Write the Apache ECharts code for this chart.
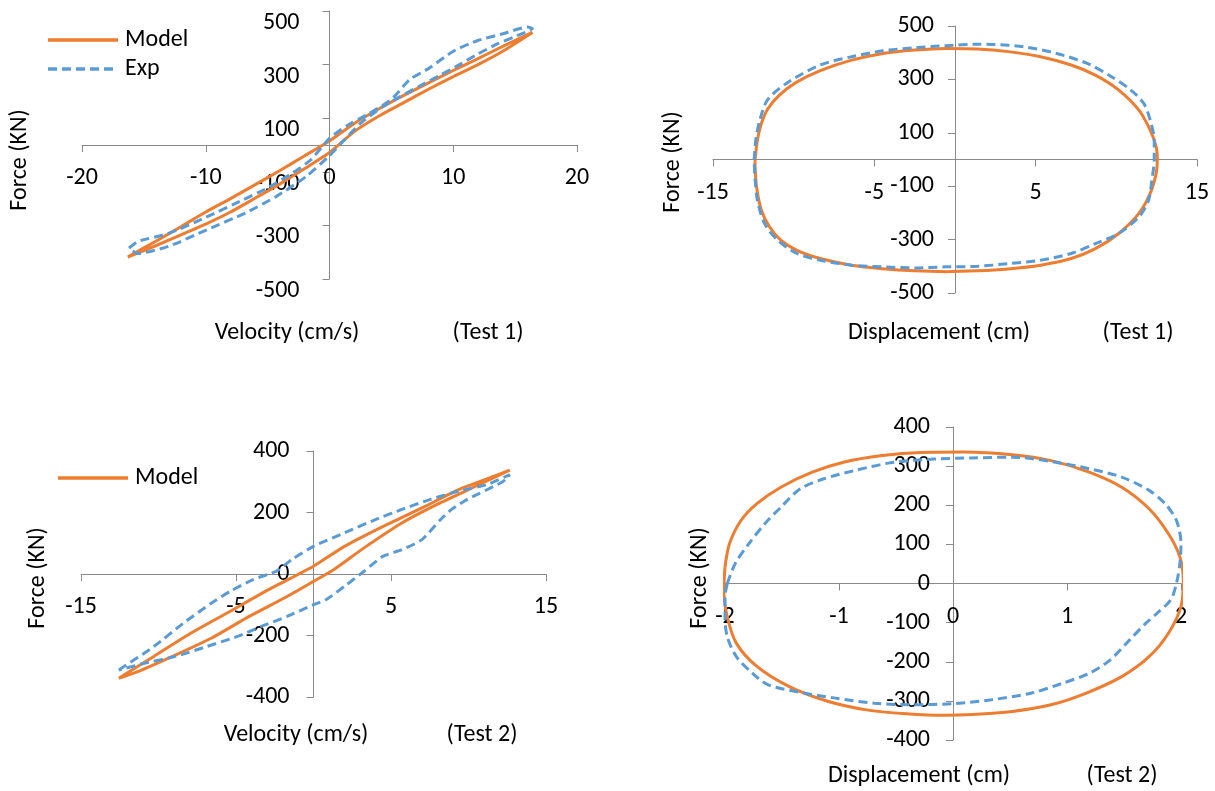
<!DOCTYPE html>
<html>
<head>
<meta charset="utf-8">
<script src="https://cdn.jsdelivr.net/npm/echarts@6/dist/echarts.min.js"></script>
<style>
html,body{margin:0;padding:0;background:#fff;}
#c{width:1215px;height:791px;}
</style>
</head>
<body>
<div id="c"></div>
<script>
// ---------- DATA ----------
// Test 1 : Force vs Velocity
const t1VelModelX = [-16.3,-14,-12,-10,-8,-6,-4,-2,0,2,4,6,8,10,12,14,16.4, 14,12,10,8,6,4,2,0,-2,-4,-6,-8,-10,-12,-14,-16.3];
const t1VelModelY = [-418,-358,-305,-250,-200,-148,-95,-40,15,80,135,185,232,278,322,368,420, 350,300,255,208,158,108,50,-28,-88,-145,-198,-250,-295,-335,-375,-418];
const t1VelExpX = [-16.2,-15.5,-13,-10,-7,-5,-3,-1.5,0,1.5,3,5,6.5,8,10,12,14,16,16.4, 15,13.6,12,10.5,9,7.4,5.5,4.3,2.5,1.2,0,-1.9,-4.3,-6.8,-9.9,-13,-15.5,-16.2];
const t1VelExpY = [-385,-360,-330,-270,-205,-160,-105,-55,25,75,112,170,245,285,350,390,415,440,435, 405,378,340,300,262,223,175,143,81,19,-40,-118,-192,-254,-316,-378,-405,-385];
// Test 1 : Force vs Displacement
const t1DispModelX = [-12.4,-12.25,-12.0,-11.6,-10.9,-9.9,-8.35,-6.4,-4.46,-2.5,-0.56,1.39,3.3,5.3,7.2,8.7,10.15,11.4,12.1,12.47,12.54, 12.47,12.1,11.4,10.15,8.7,7.2,5.3,3.3,1.4,-0.56,-2.5,-4.5,-6.4,-8.35,-9.8,-10.8,-11.5,-12.0,-12.3,-12.4];
const t1DispModelY = [-9,72,135,190,240,287,333,372,397,410,416,414,404,385,354,316,260,185,110,47,0, -52,-127,-202,-277,-334,-371,-396,-410,-417,-420,-417,-409,-396,-371,-340,-302,-252,-190,-102,-9];
const t1DispExpX = [-12.45,-12.35,-12.1,-11.6,-10.3,-8.35,-6.4,-4.46,-2.5,-0.56,1.39,2.36,4.3,6.3,8.2,9.7,10.9,11.7,12.1,12.35,12.35, 12.2,12.0,11.4,10.15,8.7,7.2,5.3,3.3,1.4,-0.56,-2.5,-4.5,-6.4,-8.35,-9.8,-11.0,-11.8,-12.25,-12.4,-12.45];
const t1DispExpY = [-2,72,147,225,291,354,385,407,419,426,432,431,422,397,360,310,260,210,147,72,0, -77,-152,-215,-277,-315,-352,-377,-390,-400,-402,-406,-402,-396,-377,-352,-302,-240,-152,-65,-2];
// Test 2 : Force vs Velocity
const t2VelModelX = [-12.56,-10.3,-7.9,-5.4,-2.9,-0.94,0,2.0,4.5,7.0,9.4,11.4,12.66, 10.7,8.2,5.7,3.26,1.3,0,-1.7,-4.15,-6.6,-9.1,-11.3,-12.56];
const t2VelModelY = [-339,-268,-192,-122,-51,0,25,90,155,215,275,313,338, 291,232,166,85,14,-24,-73,-138,-209,-268,-317,-339];
const t2VelExpX = [-12.56,-10.3,-8.4,-6.6,-5.4,-3.9,-2.4,-1.4,0,2.0,4.0,5.7,7.5,9.4,11.2,12.66, 12.2,9.9,8.9,8.2,7.0,5.7,4.5,3.26,2.0,0.8,0,-1.7,-3.4,-4.9,-6.9,-8.9,-10.9,-12.1,-12.56];
const t2VelExpY = [-312,-236,-160,-95,-57,-18,9,47,90,134,177,210,242,270,291,323, 300,242,210,177,112,79,58,9,-40,-84,-100,-138,-171,-203,-236,-268,-290,-306,-312];
// Test 2 : Force vs Displacement
const t2DispModelX = [-2.0,-1.96,-1.86,-1.72,-1.51,-1.24,-0.96,-0.62,-0.28,0.1,0.52,0.86,1.20,1.48,1.72,1.89,1.99,2.02, 2.0,1.89,1.72,1.48,1.17,0.86,0.52,0.17,-0.07,-0.41,-0.76,-1.1,-1.44,-1.72,-1.9,-1.98,-2.01,-2.0];
const t2DispModelY = [42,102,161,204,246,284,310,327,335,336,329,314,284,246,191,127,68,8, -59,-127,-187,-238,-280,-310,-327,-335,-337,-333,-323,-301,-263,-212,-153,-85,-17,42];
const t2DispExpX = [-1.98,-1.91,-1.79,-1.65,-1.51,-1.34,-1.14,-0.86,-0.52,-0.17,0.17,0.52,0.86,1.2,1.48,1.72,1.86,1.96,2.0,1.99,1.96, 1.91,1.79,1.69,1.55,1.38,1.2,0.96,0.69,0.34,0,-0.34,-0.69,-1.03,-1.31,-1.62,-1.76,-1.9,-1.98,-2.0,-2.0,-1.98];
const t2DispExpY = [0,51,102,153,195,242,267,289,310,318,321,323,312,293,272,238,204,161,102,51,0, -42,-76,-102,-144,-195,-229,-255,-280,-297,-307,-310,-306,-293,-280,-259,-229,-187,-136,-85,-34,0];

// axis ranges [min, max, interval] per panel
const xRanges = [[-20,20,10],[-15,15,10],[-15,15,10],[-2,2,1]];
const yRanges = [[-500,500,200],[-500,500,200],[-400,400,200],[-400,400,100]];
const axisTitlesX = ['Velocity (cm/s)','Displacement (cm)','Velocity (cm/s)','Displacement (cm)'];
const testLabels = ['(Test 1)','(Test 1)','(Test 2)','(Test 2)'];
const axisTitleY = 'Force (KN)';

const colModel = '#ED7D31';
const colExp = '#5B9BD5';
const FONT = 'Carlito, Calibri, Lato, sans-serif';
const FS = 24;

function pairs(xs, ys){ return xs.map((x,i)=>[x, ys[i]]); }

const grids = [
  {left:82, top:11, width:495, height:268},
  {left:713, top:26, width:484, height:267},
  {left:81, top:451, width:465, height:246},
  {left:725, top:427, width:456, height:313}
];
const yMargins = [30, 21, 24, 23];
const axisColor = '#8a8a8a';
const labelStyle = {color:'#000', fontSize:FS, fontFamily:FONT};

const xAxis = xRanges.map((r,i)=>({
  type:'value', gridIndex:i, min:r[0], max:r[1], interval:r[2],
  offset: -grids[i].height * (0 - yRanges[i][0]) / (yRanges[i][1] - yRanges[i][0]),
  axisLine:{show:true, onZero:false, lineStyle:{color:axisColor, width:1}},
  axisTick:{show:true, length:7, lineStyle:{color:axisColor}},
  splitLine:{show:false},
  axisLabel:Object.assign({margin:21, showMinLabel:true, showMaxLabel:true}, labelStyle)
}));
const yAxis = yRanges.map((r,i)=>({
  type:'value', gridIndex:i, min:r[0], max:r[1], interval:r[2],
  offset: -grids[i].width * (0 - xRanges[i][0]) / (xRanges[i][1] - xRanges[i][0]),
  axisLine:{show:true, onZero:false, lineStyle:{color:axisColor, width:1}},
  axisTick:{show:true, length:7, lineStyle:{color:axisColor}},
  splitLine:{show:false},
  axisLabel:Object.assign({margin:yMargins[i], showMinLabel:true, showMaxLabel:true}, labelStyle,
     i===0 ? {verticalAlign:'top'} : {})
}));

function modelSeries(i, xs, ys, sm){
  return {name:'Model', type:'line', xAxisIndex:i, yAxisIndex:i, data:pairs(xs,ys),
    symbol:'none', smooth:sm, lineStyle:{color:colModel, width:3}, itemStyle:{color:colModel}, z:3};
}
function expSeries(i, xs, ys, sm){
  return {name:'Exp', type:'line', xAxisIndex:i, yAxisIndex:i, data:pairs(xs,ys),
    symbol:'none', smooth:sm, lineStyle:{color:colExp, width:3, type:[9,5]}, itemStyle:{color:colExp}, z:4};
}

const series = [
  modelSeries(0, t1VelModelX, t1VelModelY, 0.2),
  expSeries(0, t1VelExpX, t1VelExpY, 0.2),
  modelSeries(1, t1DispModelX, t1DispModelY, 0.3),
  expSeries(1, t1DispExpX, t1DispExpY, 0.3),
  modelSeries(2, t2VelModelX, t2VelModelY, 0.2),
  expSeries(2, t2VelExpX, t2VelExpY, 0.2),
  modelSeries(3, t2DispModelX, t2DispModelY, 0.3),
  expSeries(3, t2DispExpX, t2DispExpY, 0.3)
];

function txt(x, y, s, rot, align){
  return {type:'text', x:x, y:y, rotation:rot||0,
    style:{text:s, fill:'#000', font:FS + 'px ' + FONT, align:align||'center', verticalAlign:'middle'}};
}
function legLine(x1, x2, y, color, dashed){
  return {type:'line', shape:{x1:x1, y1:y, x2:x2, y2:y},
    style:{stroke:color, lineWidth:3.5, lineDash: dashed ? [9,5] : null}};
}

const chart = echarts.init(document.getElementById('c'), null, {renderer:'canvas'});
chart.setOption({
  animation:false,
  backgroundColor:'#fff',
  grid:grids,
  xAxis:xAxis,
  yAxis:yAxis,
  series:series,
  graphic:[
    // legends
    legLine(48,118,40,colModel,false), txt(125,40,'Model',0,'left'),
    legLine(48,118,69,colExp,true), txt(125,69,'Exp',0,'left'),
    legLine(58,128,478,colModel,false), txt(135,478,'Model',0,'left'),
    // axis titles
    txt(20,160,axisTitleY, Math.PI/2),
    txt(287,333,axisTitlesX[0]),
    txt(488,333,testLabels[0]),
    txt(673,162,axisTitleY, Math.PI/2),
    txt(939,333,axisTitlesX[1]),
    txt(1138,333,testLabels[1]),
    txt(38,578,axisTitleY, Math.PI/2),
    txt(296,735,axisTitlesX[2]),
    txt(482,735,testLabels[2]),
    txt(700,578,axisTitleY, Math.PI/2),
    txt(919,776,axisTitlesX[3]),
    txt(1122,776,testLabels[3])
  ]
});
</script>
</body>
</html>
